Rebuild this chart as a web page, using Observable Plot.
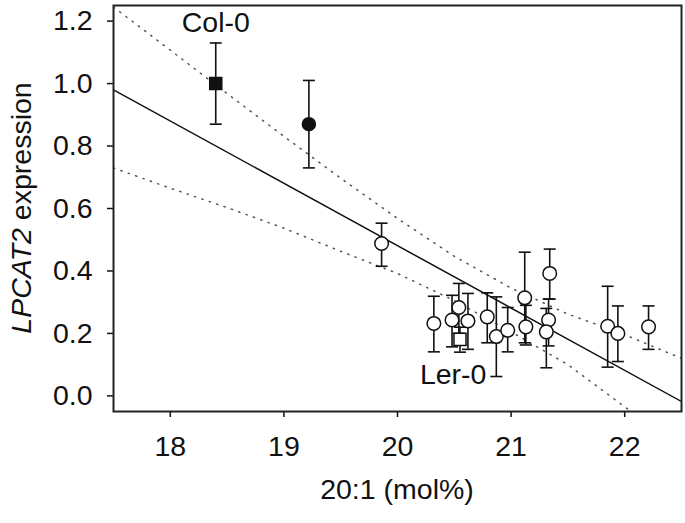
<!DOCTYPE html>
<html><head><meta charset="utf-8">
<script src="https://cdn.jsdelivr.net/npm/d3@7"></script>
<script src="https://cdn.jsdelivr.net/npm/@observablehq/plot@0.6"></script>
<style>body{margin:0;background:#fff} svg{display:block}</style>
</head><body><div id="chart"></div>
<script>
// ---- data ----
const molPct   = [18.40, 19.22, 19.86, 20.32, 20.48, 20.54, 20.55, 20.62, 20.79, 20.87, 20.97, 21.12, 21.13, 21.34, 21.33, 21.31, 21.85, 21.94, 22.21];
const expr     = [1.00, 0.87, 0.488, 0.232, 0.243, 0.283, 0.181, 0.240, 0.253, 0.190, 0.210, 0.314, 0.221, 0.392, 0.243, 0.205, 0.223, 0.200, 0.221];
const errLow   = [0.87, 0.73, 0.415, 0.141, 0.157, 0.200, 0.140, 0.149, 0.170, 0.062, 0.141, 0.170, 0.163, 0.310, 0.160, 0.090, 0.092, 0.110, 0.149];
const errHigh  = [1.13, 1.01, 0.553, 0.319, 0.322, 0.360, 0.220, 0.328, 0.330, 0.317, 0.283, 0.460, 0.290, 0.470, 0.310, 0.280, 0.351, 0.288, 0.288];
const kinds    = ["Col-0", "filled", "open", "open", "open", "open", "Ler-0", "open", "open", "open", "open", "open", "open", "open", "open", "open", "open", "open", "open"];

const fitX     = [17.5, 22.5];
const fitY     = [0.98, -0.018];
const bandX    = [17.5, 18, 18.5, 19, 19.5, 20, 20.5, 21, 21.5, 22, 22.5];
const bandUp   = [1.245, 1.107, 0.968, 0.831, 0.697, 0.568, 0.447, 0.345, 0.262, 0.196, 0.120];
const bandLow  = [0.730, 0.665, 0.603, 0.537, 0.463, 0.392, 0.305, 0.205, 0.100, -0.035, -0.170];

const labelText = ["Col-0", "Ler-0"];
const labelX    = [18.40, 20.49];
const labelY    = [1.195, 0.067];

const xTicks = [18, 19, 20, 21, 22];
const yTicks = [0.0, 0.2, 0.4, 0.6, 0.8, 1.0, 1.2];

// ---- tables ----
const points = molPct.map((x, i) => ({x, y: expr[i], lo: errLow[i], hi: errHigh[i], kind: kinds[i]}));
const fit = fitX.map((x, i) => ({x, y: fitY[i]}));
const up = bandX.map((x, i) => ({x, y: bandUp[i]}));
const low = bandX.map((x, i) => ({x, y: bandLow[i]}));
const labels = labelText.map((t, i) => ({t, x: labelX[i], y: labelY[i]}));

const hline = {draw(ctx, size) { const h = Math.sqrt(size / Math.PI); ctx.moveTo(-h, 0); ctx.lineTo(h, 0); }};
const font = "'Liberation Sans', Arial, sans-serif";
const fs = 28.5;

const chart = Plot.plot({
  width: 685, height: 523,
  marginLeft: 113, marginRight: 4, marginTop: 5, marginBottom: 112,
  style: {fontFamily: font, fontSize: fs + "px", color: "#111", background: "#fff"},
  x: {domain: [17.5, 22.5]},
  y: {domain: [-0.05, 1.25]},
  marks: [
    Plot.line(up, {x: "x", y: "y", stroke: "#555", strokeWidth: 1.5, strokeDasharray: "1.3 6.5", clip: true}),
    Plot.line(low, {x: "x", y: "y", stroke: "#555", strokeWidth: 1.5, strokeDasharray: "1.3 6.5", clip: true}),
    Plot.line(fit, {x: "x", y: "y", stroke: "#111", strokeWidth: 1.5, clip: true}),
    Plot.ruleX(points, {x: "x", y1: "lo", y2: "hi", stroke: "#111", strokeWidth: 1.6}),
    Plot.dot(points, {x: "x", y: "lo", symbol: hline, r: 6, stroke: "#111", strokeWidth: 1.6}),
    Plot.dot(points, {x: "x", y: "hi", symbol: hline, r: 6, stroke: "#111", strokeWidth: 1.6}),
    Plot.dot(points.filter(d => d.kind === "open"), {x: "x", y: "y", r: 6.8, fill: "white", stroke: "#111", strokeWidth: 1.5}),
    Plot.dot(points.filter(d => d.kind === "filled"), {x: "x", y: "y", r: 6.5, fill: "#111", stroke: "#111"}),
    Plot.dot(points.filter(d => d.kind === "Col-0"), {x: "x", y: "y", r: 6.8, symbol: "square", fill: "#111", stroke: "#111"}),
    Plot.dot(points.filter(d => d.kind === "Ler-0"), {x: "x", y: "y", r: 6.8, symbol: "square", fill: "white", stroke: "#111", strokeWidth: 1.5}),
    Plot.text(labels, {x: "x", y: "y", text: "t", fontSize: fs, lineAnchor: "middle", fill: "#111"}),
    Plot.axisX({ticks: xTicks, tickSize: 6, tickPadding: 18, strokeWidth: 1.5, label: null, tickFormat: d => String(d)}),
    Plot.axisY({ticks: yTicks, tickSize: 6, tickPadding: 15, strokeWidth: 1.5, label: null, tickFormat: d3.format(".1f")}),
    Plot.frame({stroke: "#222", strokeWidth: 2})
  ]
});

const svg = d3.select(chart);
const [x0, x1] = chart.scale("x").range;
const [yb, yt] = chart.scale("y").range;
svg.append("text")
  .attr("x", (x0 + x1) / 2).attr("y", 489)
  .attr("text-anchor", "middle").attr("dominant-baseline", "central")
  .attr("font-family", font).attr("font-size", fs).attr("fill", "#111")
  .text("20:1 (mol%)");
const yl = svg.append("text")
  .attr("transform", `translate(21,${(yb + yt) / 2}) rotate(-90)`)
  .attr("text-anchor", "middle").attr("dominant-baseline", "central")
  .attr("font-family", font).attr("font-size", fs).attr("fill", "#111");
yl.append("tspan").attr("font-style", "italic").text("LPCAT2");
yl.append("tspan").text(" expression");

document.getElementById("chart").appendChild(chart);
</script>
</body></html>
